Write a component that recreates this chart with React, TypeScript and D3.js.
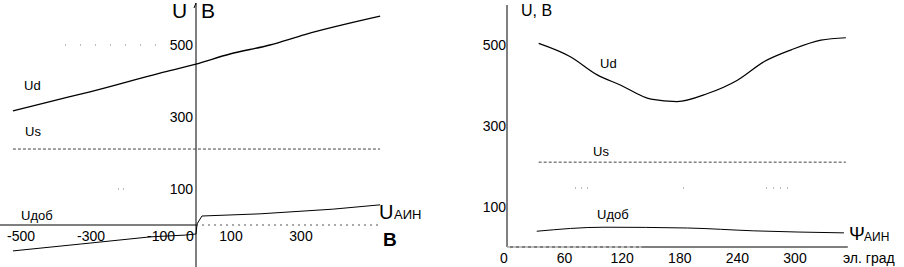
import * as React from 'react';
import * as d3 from 'd3';

// left chart: voltages vs U_АИН, В
const leftUdX = [-523, -417, -303, -103, 0, 97, 211, 311, 526];
const leftUd = [317, 343, 370, 422, 447, 475, 500, 529, 580];
const leftUsX = [-523, 526];
const leftUs = [211, 211];
const leftUdobX = [-523, -331, -131, -31, 0, 3, 17, 183, 391, 526];
const leftUdob = [-72, -53, -33, -28, -25, 3, 25, 31, 44, 56];
const leftXTicks = [-500, -300, -100, 0, 100, 300];
const leftYTicks = [100, 300, 500];

// right chart: voltages vs ψ_АИН, эл. град
const rightDeg = [33, 66, 94, 118, 150, 177, 209, 240, 268, 296, 327, 353];
const rightUd = [504, 471, 426, 401, 366, 360, 380, 413, 459, 488, 512, 518];
const rightUsDeg = [33, 353];
const rightUs = [210, 210];
const rightUdobDeg = [31, 101, 188, 257, 351];
const rightUdob = [39, 49, 47, 40, 35];
const rightXTicks = [0, 60, 120, 180, 240, 300];
const rightYTicks = [100, 300, 500];

const font = '"Liberation Sans", Arial, sans-serif';

const App: React.FC = () => {
  const xL = d3.scaleLinear().domain([-560, 540]).range([0, 385]);
  const yL = d3.scaleLinear().domain([0, 600]).range([225, 9]);
  const xR = d3.scaleLinear().domain([0, 360]).range([507, 852.6]);
  const yR = d3.scaleLinear().domain([0, 600]).range([247, 4.6]);

  const lineL = (xs: number[], ys: number[], curve = d3.curveLinear) =>
    d3.line<number>().x((_, i) => xL(xs[i])).y(d => yL(d)).curve(curve)(ys) || undefined;
  const lineR = (xs: number[], ys: number[], curve = d3.curveLinear) =>
    d3.line<number>().x((_, i) => xR(xs[i])).y(d => yR(d)).curve(curve)(ys) || undefined;

  const x0 = xL(0);
  return (
    <svg width={904} height={267} style={{ position: 'absolute', left: 0, top: 0 }} fontFamily={font}>
      <rect width={904} height={267} fill="#fff" />
      {/* left chart axes */}
      <line x1={x0} x2={x0} y1={3} y2={267} stroke="#000" strokeWidth={1} />
      <line x1={x0 - 2} x2={x0} y1={8} y2={3} stroke="#000" />
      <line x1={0} x2={x0} y1={yL(0)} y2={yL(0)} stroke="#000" strokeWidth={1} />
      <line x1={x0} x2={xL(526)} y1={yL(0)} y2={yL(0)} stroke="#555" strokeDasharray="2,4" />
      {/* faint grid dots */}
      <line x1={65} x2={158} y1={yL(500)} y2={yL(500)} stroke="#777" strokeDasharray="1,14" />
      <line x1={118} x2={124} y1={yL(100)} y2={yL(100)} stroke="#777" strokeDasharray="1,4" />
      {leftYTicks.map(t => (
        <text key={t} x={x0 - 3} y={yL(t) + 5} fontSize={14} textAnchor="end">{t}</text>
      ))}
      {leftXTicks.map(t => (
        <text key={t} x={t === 0 ? x0 - 6 : xL(t)} y={241} fontSize={14} textAnchor="middle">{t}</text>
      ))}
      <path d={lineL(leftUdX, leftUd, d3.curveMonotoneX)} fill="none" stroke="#000" strokeWidth={1.3} />
      <path d={lineL(leftUsX, leftUs)} fill="none" stroke="#444" strokeWidth={1} strokeDasharray="3,2" />
      <path d={lineL(leftUdobX, leftUdob)} fill="none" stroke="#000" strokeWidth={1} />
      <text x={172} y={18} fontSize={21}>U</text>
      <text x={201} y={18} fontSize={21}>B</text>
      <text x={24} y={90} fontSize={13}>Ud</text>
      <text x={25} y={136} fontSize={13}>Us</text>
      <text x={21} y={220} fontSize={13}>Uдоб</text>
      <text x={379} y={219} fontSize={20}>U</text>
      <text x={394} y={219} fontSize={13}>АИН</text>
      <text x={383} y={246} fontSize={19} fontWeight="bold">B</text>

      {/* right chart axes */}
      <line x1={xR(0)} x2={xR(0)} y1={5} y2={yR(0)} stroke="#000" strokeWidth={1} />
      <line x1={xR(0)} x2={xR(355)} y1={yR(0)} y2={yR(0)} stroke="#000" strokeWidth={1} />
      <line x1={xR(0)} x2={xR(140)} y1={yR(0)} y2={yR(0)} stroke="#fff" strokeDasharray="3,3" />
      <line x1={575} x2={590} y1={188} y2={188} stroke="#777" strokeDasharray="1,5" />
      <line x1={683} x2={688} y1={188} y2={188} stroke="#777" strokeDasharray="1,4" />
      <line x1={766} x2={792} y1={188} y2={188} stroke="#777" strokeDasharray="1,6" />
      {rightYTicks.map(t => (
        <text key={t} x={xR(0) - 1} y={yR(t) + 5} fontSize={14} textAnchor="end">{t}</text>
      ))}
      {rightXTicks.map(t => (
        <text key={t} x={t === 0 ? xR(0) - 3 : xR(t)} y={263} fontSize={14} textAnchor="middle">{t}</text>
      ))}
      <path d={lineR(rightDeg, rightUd, d3.curveMonotoneX)} fill="none" stroke="#000" strokeWidth={1.2} />
      <path d={lineR(rightUsDeg, rightUs)} fill="none" stroke="#444" strokeWidth={1} strokeDasharray="3,2" />
      <path d={lineR(rightUdobDeg, rightUdob, d3.curveMonotoneX)} fill="none" stroke="#000" strokeWidth={1} />
      <text x={521} y={16} fontSize={16}>U, B</text>
      <text x={600} y={68} fontSize={13}>Ud</text>
      <text x={593} y={156} fontSize={13}>Us</text>
      <text x={597} y={219} fontSize={13}>Uдоб</text>
      <text x={849} y={240} fontSize={19}>Ψ</text>
      <text x={864} y={241} fontSize={12}>АИН</text>
      <text x={843} y={263} fontSize={14}>эл. град</text>
    </svg>
  );
};

export default App;
